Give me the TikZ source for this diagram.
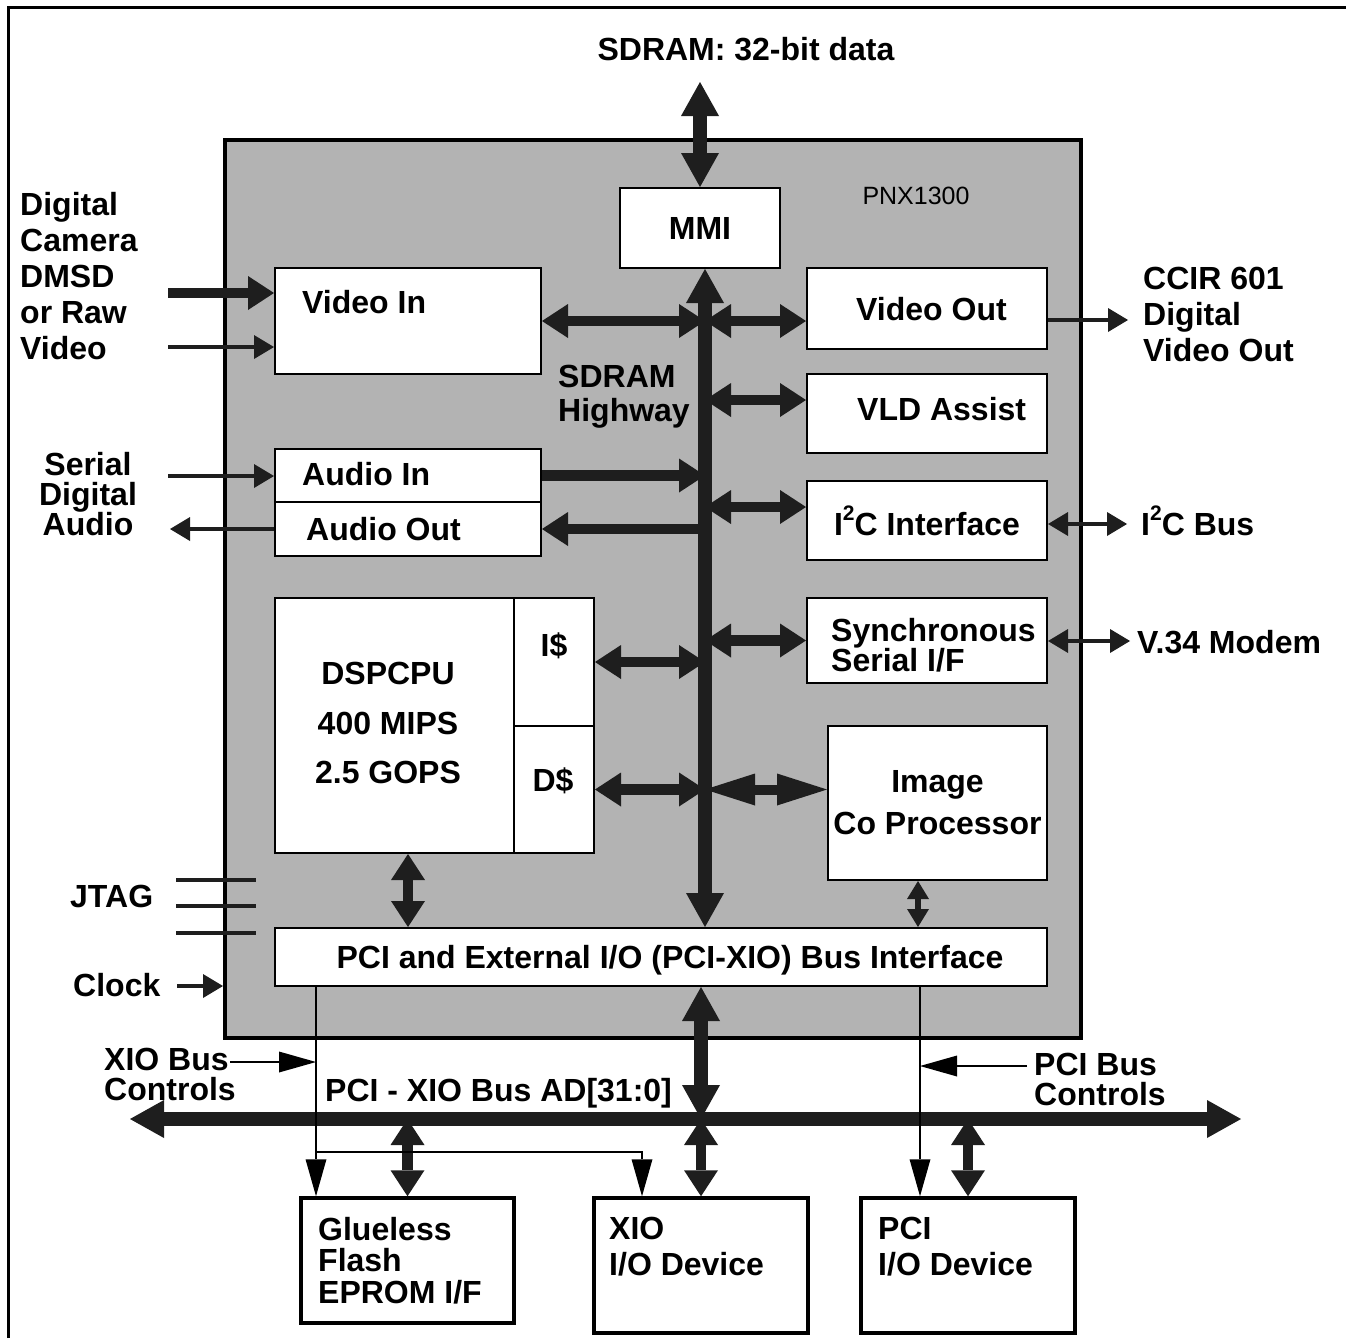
\documentclass[tikz,border=0pt]{standalone}
\usepackage{fontspec}
\setmainfont{Liberation Sans}
\usetikzlibrary{arrows.meta, positioning, calc}
\definecolor{arrowc}{RGB}{30,30,30}
\definecolor{chipgray}{RGB}{179,179,179}
\newcommand{\sqrd}{\raisebox{15pt}{\fontsize{21}{21}\selectfont 2}}

\begin{document}
\begin{tikzpicture}[
    x=1pt, y=-1pt,
    box/.style={draw, line width=2pt, fill=white, inner sep=0pt, align=center, font=\bfseries\fontsize{32}{36}\selectfont},
    dev/.style={box, line width=3.5pt},
    chip/.style={draw, line width=4pt, fill=chipgray, inner sep=0pt},
    txt/.style={inner sep=0pt, align=left, font=\bfseries\fontsize{32}{36}\selectfont},
    bus/.style={line width=14pt, color=arrowc, >={Triangle[length=34pt, width=38pt, line width=0pt]}},
    link/.style={line width=10.5pt, color=arrowc, >={Triangle[length=26pt, width=34pt, line width=0pt]}},
    imglink/.style={line width=10pt, color=arrowc, >={Triangle[length=50pt, width=32pt, line width=0pt]}},
    slim/.style={line width=6pt, color=arrowc, >={Triangle[length=18pt, width=22pt, line width=0pt]}},
    sig/.style={line width=3.5pt, color=arrowc, >={Triangle[length=20pt, width=24pt, line width=0pt]}},
    ctl/.style={line width=1.5pt, black, >={Triangle[length=37pt, width=21pt, line width=0pt]}}
]
\useasboundingbox (0,0) rectangle (1346,1338);

% frame
\draw[line width=3pt] (8,1338) -- (8,8) -- (1346,8);

% chip
\node[chip, minimum width=856pt, minimum height=898pt] (chip) at (653,589) {};
\node[inner sep=0pt, anchor=north, font=\fontsize{25}{28}\selectfont] (pnx) at (916,187) {PNX1300};

% blocks on the chip
\node[box, minimum width=160pt, minimum height=80pt] (mmi) at (700,228) {MMI};
\node[box, minimum width=266pt, minimum height=106pt] (vin) at (408,321) {};
\node[box, minimum width=240pt, minimum height=81pt] (vout) at (927,308.5) {};
\node[box, minimum width=240pt, minimum height=79pt] (vld) at (927,413.5) {};
\node[box, minimum width=240pt, minimum height=79pt] (i2c) at (927,520.5) {I\sqrd C Interface};
\node[box, minimum width=240pt, minimum height=85pt] (ssi) at (927,640.5) {};
\node[box, minimum width=219pt, minimum height=154pt, font=\bfseries\fontsize{32}{42}\selectfont] (icp) at (937.5,803) {Image\\Co Processor};
\node[box, minimum width=266pt, minimum height=53pt] (ain) at (408,475.5) {};
\node[box, minimum width=266pt, minimum height=54pt] (aout) at (408,529) {};
\node[box, minimum width=239pt, minimum height=255pt] (cpu) at (394.5,725.5) {};
\node[box, minimum width=80pt, minimum height=128pt] (icache) at (554,662) {};
\node[box, minimum width=80pt, minimum height=127pt] (dcache) at (554,789.5) {};
\node[box, minimum width=772pt, minimum height=58pt] (pcix) at (661,957) {};

% devices on the bus
\node[dev, minimum width=213pt, minimum height=125pt] (flash) at (407.5,1260.5) {};
\node[dev, minimum width=214pt, minimum height=135pt] (xio) at (701,1265.5) {};
\node[dev, minimum width=214pt, minimum height=135pt] (pcidev) at (968,1265.5) {};

% texts in the blocks
\node[txt, anchor=north west] (vintxt) at (302,290) {Video In};
\node[txt, anchor=north west] (vouttxt) at (856,297) {Video Out};
\node[txt, anchor=north west, font=\bfseries\fontsize{32}{34}\selectfont] (hwytxt) at (558,365) {SDRAM\\Highway};
\node[txt, anchor=north west] (vldtxt) at (857,397) {VLD Assist};
\node[txt, anchor=north west, font=\bfseries\fontsize{32}{30}\selectfont] (ssitxt) at (831,618) {Synchronous\\Serial I/F};
\node[txt, anchor=north west] (aintxt) at (302,462) {Audio In};
\node[txt, anchor=north west] (aouttxt) at (306,517) {Audio Out};
\node[txt, anchor=north, align=center, font=\bfseries\fontsize{32}{49.5}\selectfont] (cputxt) at (388,662) {DSPCPU\\400 MIPS\\2.5 GOPS};
\node[txt, anchor=north] (ictxt) at (554,633) {I\$};
\node[txt, anchor=north] (dctxt) at (553,768) {D\$};
\node[txt, anchor=north] (pcixtxt) at (670,945) {PCI and External I/O (PCI-XIO) Bus Interface};
\node[txt, anchor=north west, font=\bfseries\fontsize{32}{31.5}\selectfont] (flashtxt) at (318,1217) {Glueless\\Flash\\EPROM I/F};
\node[txt, anchor=north west] (xiotxt) at (609,1217) {XIO\\I/O Device};
\node[txt, anchor=north west] (pcidevtxt) at (878,1217) {PCI\\I/O Device};

% outside texts
\node[txt, anchor=north] (sdramtxt) at (746,37) {SDRAM: 32-bit data};
\node[txt, anchor=north west] (camtxt) at (20,192) {Digital\\Camera\\DMSD\\or Raw\\Video};
\node[txt, anchor=north, align=center, font=\bfseries\fontsize{32}{30}\selectfont] (audtxt) at (88,452) {Serial\\Digital\\Audio};
\node[txt, anchor=north west] (jtagtxt) at (70,885) {JTAG};
\node[txt, anchor=north west] (clktxt) at (73,973) {Clock};
\node[txt, anchor=north west, font=\bfseries\fontsize{32}{29.5}\selectfont] (xioctltxt) at (104,1048) {XIO Bus\\Controls};
\node[txt, anchor=north west] (bustxt) at (325,1078) {PCI - XIO Bus AD[31:0]};
\node[txt, anchor=north west, font=\bfseries\fontsize{32}{30}\selectfont] (pcictltxt) at (1034,1053) {PCI Bus\\Controls};
\node[txt, anchor=north west] (ccirtxt) at (1143,267) {CCIR 601\\Digital\\Video Out};
\node[txt, anchor=base west] (i2cbustxt) at (1141,535) {I\sqrd C Bus};
\node[txt, anchor=north west] (modemtxt) at (1137,630) {V.34 Modem};

% highway and buses
\coordinate (hw) at (705,600);
\coordinate (sdtop) at (700,82);
\coordinate (busL) at (130,1119);
\coordinate (busR) at (1241,1119);
\coordinate (colcpu) at (408,0);
\coordinate (colicp) at (918,0);
\coordinate (rowvld) at (0,400);
\coordinate (rowi2c) at (0,507);

\draw[bus, <->] (sdtop) -- (mmi.north);
\draw[bus, <->] (mmi.south -| hw) -- (pcix.north -| hw);
\draw[link, <->] (vin.east) -- (vin.east -| hw);
\draw[link, <->] (hw |- vin.east) -- (vout.west |- vin.east);
\draw[link, <->] (hw |- rowvld) -- (vld.west |- rowvld);
\draw[link, ->] (ain.east) -- (ain.east -| hw);
\draw[link, ->] (aout.east -| hw) -- (aout.east);
\draw[link, <->] (hw |- rowi2c) -- (i2c.west |- rowi2c);
\draw[link, <->] (hw |- ssi.west) -- (ssi.west);
\draw[link, <->] (icache.east) -- (icache.east -| hw);
\draw[link, <->] (dcache.east) -- (dcache.east -| hw);
\draw[imglink, <->] (hw |- dcache.east) -- (icp.west |- dcache.east);
\draw[link, <->] (cpu.south -| colcpu) -- (pcix.north -| colcpu);
\draw[slim, <->] (icp.south -| colicp) -- (pcix.north -| colicp);

\draw[bus, <->] (busL) -- (busR);
\draw[bus, <->] (pcix.south -| xio.north) -- (xio.north |- busL);
\draw[link, <->] (flash.north |- busL) -- (flash.north);
\draw[link, <->] (xio.north |- busL) -- (xio.north);
\draw[link, <->] (pcidev.north |- busL) -- (pcidev.north);

% control lines
\coordinate (xsplit) at (316,1152);
\coordinate (xioin) at (230,1062);
\coordinate (pcicol) at (920,1000);
\coordinate (pciin) at (1027,1066);
\draw[ctl, ->] (pcix.south -| xsplit) -- (flash.north -| xsplit);
\draw[ctl, ->] (xsplit) -| ([xshift=-59pt]xio.north);
\draw[ctl, ->] (xioin) -- (xioin -| xsplit);
\draw[ctl, ->] (pcix.south -| pcicol) -- (pcidev.north -| pcicol);
\draw[ctl, ->] (pciin) -- (pciin -| pcicol);

% outside signals
\coordinate (camin) at (168,293);
\coordinate (rawin) at (168,347);
\coordinate (audin) at (168,476);
\coordinate (audout) at (170,529);
\coordinate (clkin) at (177,986);
\coordinate (vidout) at (1128,320);
\coordinate (i2cout) at (1127,524);
\coordinate (modem) at (1130,641);
\draw[link, ->] (camin) -- (camin -| vin.west);
\draw[sig, ->] (rawin) -- (rawin -| vin.west);
\draw[sig, ->] (audin) -- (audin -| ain.west);
\draw[sig, ->] (aout.west) -- (audout);
\foreach \y in {880,906,933}
    \draw[line width=4pt, arrowc] (176,\y) -- (256,\y);
\draw[sig, ->] (clkin) -- (clkin -| chip.west);
\draw[sig, ->] (vout.east |- vidout) -- (vidout);
\draw[sig, <->] (i2c.east |- i2cout) -- (i2cout);
\draw[sig, <->] (ssi.east |- modem) -- (modem);

\end{tikzpicture}
\end{document}
